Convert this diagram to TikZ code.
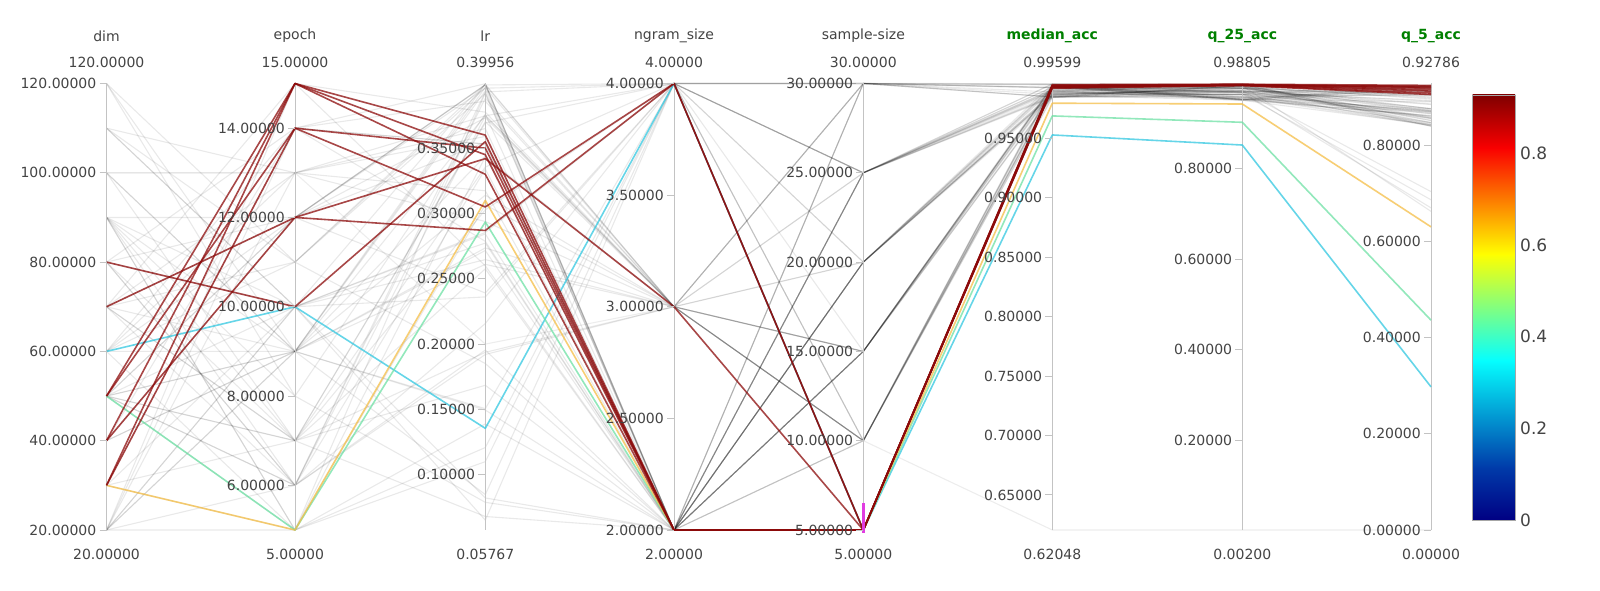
\documentclass[tikz,border=0pt]{standalone}
\usepackage{fontspec}
\setmainfont{DejaVu Sans}
\definecolor{txt}{RGB}{68,68,68}
\definecolor{axc}{RGB}{195,195,195}
\definecolor{ttlgreen}{RGB}{0,128,0}
\definecolor{redl}{RGB}{140,10,10}
\definecolor{orl}{RGB}{245,190,70}
\definecolor{grl}{RGB}{110,225,165}
\definecolor{cyl}{RGB}{50,200,225}
\definecolor{brush}{RGB}{225,60,225}
\definecolor{jA}{RGB}{0,0,131}
\definecolor{jB}{RGB}{0,60,170}
\definecolor{jC}{RGB}{5,255,255}
\definecolor{jD}{RGB}{255,255,0}
\definecolor{jE}{RGB}{250,0,0}
\definecolor{jF}{RGB}{128,0,0}
\newcommand{\pcline}[9]{%
 \pgfmathsetmacro\pcya{530-((#2)-20)/100*446.5}%
 \pgfmathsetmacro\pcyb{530-((#3)-5)/10*446.5}%
 \pgfmathsetmacro\pcyc{530-((#4)-0.05767)/0.34189*446.5}%
 \pgfmathsetmacro\pcyd{530-((#5)-2)/2*446.5}%
 \pgfmathsetmacro\pcye{530-((#6)-5)/25*446.5}%
 \pgfmathsetmacro\pcyf{530-((#7)-0.62048)/0.37551*446.5}%
 \pgfmathsetmacro\pcyg{530-((#8)-0.002)/0.98605*446.5}%
 \pgfmathsetmacro\pcyh{530-(#9)/0.92786*446.5}%
 \draw[#1] (106.5,\pcya) -- (295,\pcyb) -- (485.3,\pcyc) -- (674,\pcyd) -- (863.3,\pcye) -- (1052.3,\pcyf) -- (1242.3,\pcyg) -- (1431,\pcyh);}
\begin{document}
\begin{tikzpicture}[x=1pt,y=-1pt,
  ctx/.style={draw=black, draw opacity=0.085, line width=1.1pt, line join=round},
  ctxl/.style={draw=black, draw opacity=0.07, line width=1.1pt, line join=round},
  sel/.style={line width=1.6pt, line join=round, draw opacity=0.75},
  axisline/.style={draw=axc, line width=1pt},
  ticklab/.style={anchor=east, inner sep=0pt, text=txt, font=\fontsize{14}{16}\selectfont},
  rangelab/.style={anchor=center, inner sep=0pt, text=txt, font=\fontsize{14}{16}\selectfont},
  ttl/.style={anchor=center, inner sep=0pt, text=txt, font=\fontsize{14}{16}\selectfont},
  ttlacc/.style={anchor=center, inner sep=0pt, text=ttlgreen, font=\fontsize{14}{16}\selectfont\bfseries},
  cblab/.style={anchor=west, inner sep=0pt, text=txt, font=\fontsize{17}{20}\selectfont}]
\useasboundingbox (0,0) rectangle (1600,591);
\fill[white] (0,0) rectangle (1600,591);

% context (unselected) lines
\pgfmathsetseed{20}
\foreach \k in {1,...,66}{%
 \pgfmathrandominteger{\pcrdim}{2}{12}%
 \pgfmathrandominteger{\pcrep}{5}{15}%
 \pgfmathsetmacro{\pcrr}{rnd}%
 \pgfmathsetmacro{\pcrlr}{0.0577+0.342*(1-\pcrr*\pcrr)}%
 \pgfmathsetmacro{\pcrm}{mod(\k*7,20)}%
 \pgfmathsetmacro{\pcrng}{\pcrm<9 ? 2 : (\pcrm<15 ? 3 : 4)}%
 \pgfmathsetmacro{\pcrs}{2+mod(\k*3+floor(\k/5),5)}%
 \pgfmathsetmacro{\pcrmd}{0.984+0.0119*rnd}%
 \pgfmathsetmacro{\pcrqa}{0.95+0.038*rnd}%
 \pgfmathsetmacro{\pcrq}{rnd}%
 \pgfmathsetmacro{\pcrqb}{\pcrq<0.88 ? 0.83+0.095*rnd : 0.45+0.35*rnd}%
 \pcline{ctx}{\pcrdim*10}{\pcrep}{\pcrlr}{\pcrng}{\pcrs*5}{\pcrmd}{\pcrqa}{\pcrqb}%
}
\pcline{ctxl}{100}{13}{0.2}{3}{10}{0.62048}{0.002}{0}

% axes
\foreach \nm/\xx in {dim/106.5,epoch/295,lr/485.3,ngram/674,sample/863.3,median/1052.3,qa/1242.3,qb/1431}{
  \coordinate (\nm-top) at (\xx,83.5);
  \coordinate (\nm-bot) at (\xx,530);
  \draw[axisline] (\nm-top) -- (\nm-bot);
}

% selected lines (lowest colour value first)
\pcline{sel,draw=cyl}{60}{10}{0.1355}{4}{5}{0.9527}{0.8522}{0.2975}
\pcline{sel,draw=grl}{50}{5}{0.2935}{2}{5}{0.9687}{0.9024}{0.436}
\pcline{sel,draw=orl}{30}{5}{0.310}{2}{5}{0.9794}{0.9428}{0.63}
\pcline{sel,draw=redl}{30}{14}{0.350}{2}{5}{0.9945}{0.9860}{0.920}
\pcline{sel,draw=redl}{40}{15}{0.330}{2}{5}{0.9935}{0.9850}{0.915}
\pcline{sel,draw=redl}{50}{15}{0.345}{2}{5}{0.9930}{0.9845}{0.912}
\pcline{sel,draw=redl}{40}{12}{0.287}{4}{5}{0.9940}{0.9855}{0.918}
\pcline{sel,draw=redl}{70}{12}{0.342}{3}{5}{0.9925}{0.9840}{0.908}
\pcline{sel,draw=redl}{80}{10}{0.355}{2}{5}{0.9920}{0.9835}{0.905}
\pcline{sel,draw=redl}{50}{14}{0.305}{4}{5}{0.9935}{0.9850}{0.922}
\pcline{sel,draw=redl}{30}{15}{0.360}{2}{5}{0.9950}{0.9865}{0.924}

% brush
\fill[brush] (861.8,503.3) rectangle (865.2,533.3);

% ticks and tick labels
\foreach \xx/\yy/\lab/\nm in {
 106.5/530/20.00000/d1, 106.5/440.7/40.00000/d2, 106.5/351.4/60.00000/d3, 106.5/262.1/80.00000/d4, 106.5/172.8/100.00000/d5, 106.5/83.5/120.00000/d6,
 295/485.35/6.00000/e1, 295/396.05/8.00000/e2, 295/306.75/10.00000/e3, 295/217.45/12.00000/e4, 295/128.15/14.00000/e5,
 485.3/474.7/0.10000/l1, 485.3/409.4/0.15000/l2, 485.3/344.1/0.20000/l3, 485.3/278.8/0.25000/l4, 485.3/213.5/0.30000/l5, 485.3/148.2/0.35000/l6,
 674/530/2.00000/n1, 674/418.4/2.50000/n2, 674/306.75/3.00000/n3, 674/195.1/3.50000/n4, 674/83.5/4.00000/n5,
 863.3/530/5.00000/s1, 863.3/440.7/10.00000/s2, 863.3/351.4/15.00000/s3, 863.3/262.1/20.00000/s4, 863.3/172.8/25.00000/s5, 863.3/83.5/30.00000/s6,
 1052.3/494.9/0.65000/m1, 1052.3/435.45/0.70000/m2, 1052.3/376.0/0.75000/m3, 1052.3/316.5/0.80000/m4, 1052.3/257.1/0.85000/m5, 1052.3/197.6/0.90000/m6, 1052.3/138.2/0.95000/m7,
 1242.3/440.3/0.20000/qa1, 1242.3/349.8/0.40000/qa2, 1242.3/259.2/0.60000/qa3, 1242.3/168.65/0.80000/qa4,
 1431/530/0.00000/qb1, 1431/433.76/0.20000/qb2, 1431/337.5/0.40000/qb3, 1431/241.3/0.60000/qb4, 1431/145.0/0.80000/qb5}{
  \draw[axisline] (\xx-7,\yy) -- (\xx,\yy);
  \node[ticklab] (tick-\nm) at (\xx-10,\yy) {\lab};
}

% titles and range labels
\foreach \xx/\tt/\hi/\lo/\nm in {106.5/dim/120.00000/20.00000/dim, 295/epoch/15.00000/5.00000/epoch, 485.3/lr/0.39956/0.05767/lr, 674/ngram\_size/4.00000/2.00000/ngram, 863.3/sample-size/30.00000/5.00000/sample}{
  \node[ttl] (title-\nm) at (\xx,36) {\tt};
  \node[rangelab] (hi-\nm) at (\xx,62) {\hi};
  \node[rangelab] (lo-\nm) at (\xx,554) {\lo};
}
\foreach \xx/\tt/\hi/\lo/\nm in {1052.3/median\_acc/0.99599/0.62048/median, 1242.3/q\_25\_acc/0.98805/0.00200/qa, 1431/q\_5\_acc/0.92786/0.00000/qb}{
  \node[ttlacc] (title-\nm) at (\xx,36) {\tt};
  \node[rangelab] (hi-\nm) at (\xx,62) {\hi};
  \node[rangelab] (lo-\nm) at (\xx,554) {\lo};
}

% colorbar
\shade[top color=jB, bottom color=jA] (1472.7,466.5) rectangle (1515,520);
\shade[top color=jC, bottom color=jB] (1472.7,360.2) rectangle (1515,467.2);
\shade[top color=jD, bottom color=jC] (1472.7,254.0) rectangle (1515,360.9);
\shade[top color=jE, bottom color=jD] (1472.7,147.7) rectangle (1515,254.7);
\shade[top color=jF, bottom color=jE] (1472.7,95) rectangle (1515,148.4);
\draw[gray!70, line width=0.8pt] (1472.7,95) rectangle (1515,520);
\node[cblab] (cb0) at (1520,520) {0};
\node[cblab] (cb2) at (1520,428.4) {0.2};
\node[cblab] (cb4) at (1520,336.8) {0.4};
\node[cblab] (cb6) at (1520,245.2) {0.6};
\node[cblab] (cb8) at (1520,153.6) {0.8};
\end{tikzpicture}
\end{document}
